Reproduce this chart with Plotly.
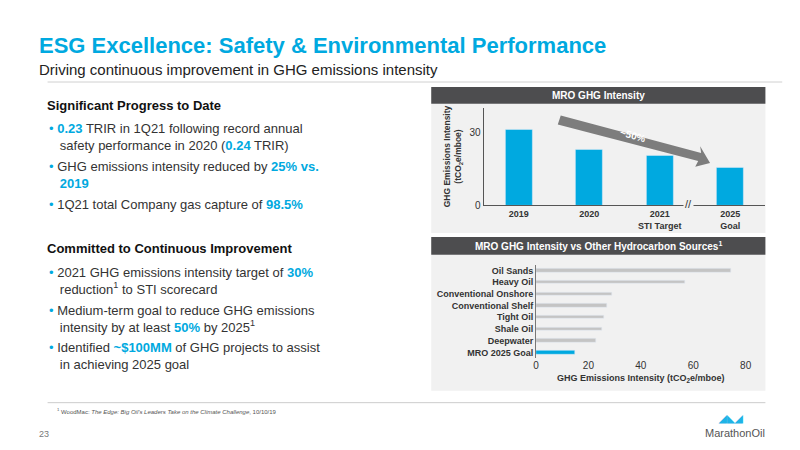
import plotly.graph_objects as go

# --- Data ---
YEARS = ["2019", "2020", "2021<br>STI Target", "2025<br>Goal"]
INTENSITY = [31, 23, 20.5, 15.5]

SOURCES = ["Oil Sands", "Heavy Oil", "Conventional Onshore", "Conventional Shelf",
           "Tight Oil", "Shale Oil", "Deepwater", "MRO 2025 Goal"]
SOURCE_VALUES = [74.5, 57, 29, 27, 26, 25, 23, 15]

BLUE = "#00a9e0"
DARK = "#4d4d4f"
PANEL = "#f1f1f1"
FONT = "Liberation Sans"

W, H = 800, 450


def px(x):
    return x / W


def py(y):
    return 1 - y / H


fig = go.Figure()

# top bar chart
fig.add_trace(go.Bar(x=YEARS, y=INTENSITY, marker_color=BLUE, width=0.38,
                     xaxis="x", yaxis="y", showlegend=False))

# horizontal bars
colors = ["#c4c4c4"] * (len(SOURCES) - 1) + [BLUE]
fig.add_trace(go.Bar(x=SOURCE_VALUES, y=SOURCES, orientation="h", marker_color=colors,
                     width=0.3, xaxis="x2", yaxis="y2", showlegend=False))

fig.update_layout(
    width=W, height=H, margin=dict(l=0, r=0, t=0, b=0),
    paper_bgcolor="white", plot_bgcolor="rgba(0,0,0,0)",
    font=dict(family=FONT, color="#333333", size=10),
    xaxis=dict(domain=[px(478), px(763)], range=[-0.5, 3.5], showline=True, linecolor="#555",
               tickfont=dict(size=9, color="#333"), ticks="", showgrid=False, fixedrange=True),
    yaxis=dict(domain=[py(200), py(101)], range=[0, 40], tickvals=[0, 30], showline=True,
               linecolor="#555", showgrid=False, zeroline=False, tickfont=dict(size=10, color="#333"),
               title=dict(text="<b>GHG Emissions Intensity<br>(tCO<sub>2</sub>e/mboe)</b>",
                          font=dict(size=8.5, color="#333"), standoff=6)),
    xaxis2=dict(domain=[px(531), px(743)], range=[0, 80], tickvals=[0, 20, 40, 60, 80],
                showgrid=False, zeroline=False, showline=False, tickfont=dict(size=10, color="#333"),
                anchor="y2",
                title=dict(text="<b>GHG Emissions Intensity (tCO<sub>2</sub>e/mboe)</b>",
                           font=dict(size=9, color="#333"), standoff=4)),
    yaxis2=dict(domain=[py(355), py(260)], autorange="reversed", showline=True, linecolor="#777",
                tickfont=dict(size=9, color="#333"), anchor="x2"),
    bargap=0,
)
fig.update_xaxes(tickprefix="<b>", ticksuffix="</b>")
fig.update_yaxes(tickprefix="<b>", ticksuffix="</b>")

P = dict(xref="paper", yref="paper")
shapes = [
    # title rule
    dict(type="line", x0=px(37), x1=px(780), y0=py(75), y1=py(75), line=dict(color="#d0d0d0", width=1), **P),
    # panels
    dict(type="rect", x0=px(425), x1=px(763), y0=py(97), y1=py(228), fillcolor=PANEL, line_width=0, layer="below", **P),
    dict(type="rect", x0=px(425), x1=px(763), y0=py(80), y1=py(97), fillcolor=DARK, line_width=0, **P),
    dict(type="rect", x0=px(425), x1=px(763), y0=py(250), y1=py(388), fillcolor=PANEL, line_width=0, layer="below", **P),
    dict(type="rect", x0=px(425), x1=px(763), y0=py(232), y1=py(250), fillcolor=DARK, line_width=0, **P),
    # footnote rule
    dict(type="line", x0=px(37), x1=px(763), y0=py(400), y1=py(400), line=dict(color="#cccccc", width=1), **P),
    # ~50% arrow
    dict(type="path",
         path=f"M {px(556)},{py(109)} L {px(698)},{py(147)} L {px(697)},{py(140)} L {px(707)},{py(157)} "
              f"L {px(692)},{py(161)} L {px(695)},{py(155)} L {px(553)},{py(118)} Z",
         fillcolor="#7d7d7d", line_width=0, **P),
]
fig.update_layout(shapes=shapes)

ann = []
DX = -11  # annotation left edge offset


def text(x, y, t, size=11, color="#333333", bold=False, **kw):
    if bold:
        t = f"<b>{t}</b>"
    xa = kw.pop("xanchor", "left")
    if xa == "left":
        x += DX
    ann.append(dict(x=px(x), y=py(y), xref="paper", yref="paper", text=t, showarrow=False,
                    xanchor=xa, yanchor=kw.pop("yanchor", "middle"),
                    align=kw.pop("align", "left"), font=dict(size=size, color=color, family=FONT), **kw))


def hl(s):
    return f"<b><span style='color:{BLUE}'>{s}</span></b>"


B = f"<span style='color:{BLUE}'>•</span>"

text(37, 38, "ESG Excellence: Safety & Environmental Performance", size=22, color=BLUE, bold=True)
text(37, 62, "Driving continuous improvement in GHG emissions intensity", size=15, color="#222")

text(45, 99, "Significant Progress to Date", size=13, color="#111", bold=True)
text(47, 131, f"{B} {hl('0.23')} TRIR in 1Q21 following record annual<br>   safety performance in 2020 ({hl('0.24')} TRIR)", size=13)
text(47, 169, f"{B} GHG emissions intensity reduced by {hl('25% vs.')}<br>   {hl('2019')}", size=13)
text(47, 199, f"{B} 1Q21 total Company gas capture of {hl('98.5%')}", size=13)

text(45, 244, "Committed to Continuous Improvement", size=13, color="#111", bold=True)
text(47, 277, f"{B} 2021 GHG emissions intensity target of {hl('30%')}<br>   reduction<sup>1</sup> to STI scorecard", size=13)
text(47, 315, f"{B} Medium-term goal to reduce GHG emissions<br>   intensity by at least {hl('50%')} by 2025<sup>1</sup>", size=13)
text(47, 353, f"{B} Identified {hl('~$100MM')} of GHG projects to assist<br>   in achieving 2025 goal", size=13)

text(55, 408, "<sup>1</sup> WoodMac: <i>The Edge: Big Oil's Leaders Take on the Climate Challenge</i>, 10/10/19", size=6, color="#555")
text(37, 432, "23", size=9, color="#777")

text(594, 89, "MRO GHG Intensity", size=10, color="white", bold=True, xanchor="center")
text(594, 241, "MRO GHG Intensity vs Other Hydrocarbon Sources<sup>1</sup>", size=10, color="white", bold=True, xanchor="center")
text(629, 129, "~50%", size=10, color="white", bold=True, xanchor="center", textangle=15)
text(685, 199, "//", size=11, color="#333", xanchor="center", bgcolor=PANEL)

text(728, 416, "<b><span style='color:#1fb3e6'>◢◣◢</span></b>", size=10, xanchor="center")
text(732, 431, "MarathonOil", size=11, color="#555", xanchor="center")

fig.update_layout(annotations=ann)

fig.write_html("out.html")
